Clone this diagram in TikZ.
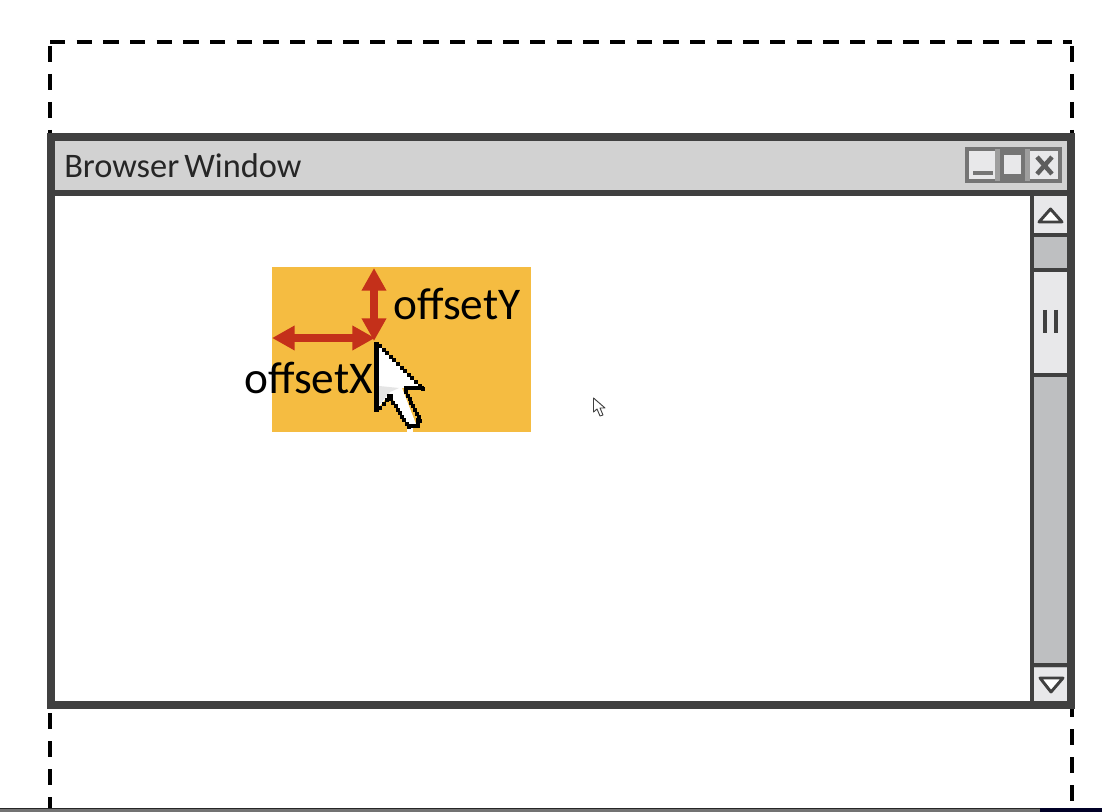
\documentclass[tikz,border=0pt]{standalone}
\usepackage{fontspec}
\setmainfont{Carlito}
\usetikzlibrary{arrows.meta}
\definecolor{frameC}{HTML}{404040}
\definecolor{titleC}{HTML}{D2D2D2}
\definecolor{btnC}{HTML}{E8E8EA}
\definecolor{btnEdge}{HTML}{757575}
\definecolor{trackC}{HTML}{BEBFC1}
\definecolor{orangeC}{HTML}{F5BC41}
\definecolor{redC}{HTML}{C4301A}
\tikzset{
  x=0.75pt,y=-0.75pt,
  guideH/.style={draw=black,line width=2.9pt,dash pattern=on 11.4pt off 8.6pt},
  guideV/.style={draw=black,line width=2.9pt,dash pattern=on 12pt off 9pt},
  sbline/.style={draw=frameC,line width=3.2pt},
  wbtn/.style={fill=btnC,draw=btnEdge,line width=2.8pt},
  glyph/.style={draw=frameC,line width=2.2pt},
  dbl/.style={draw=redC,line width=5.4pt,{Triangle[length=17pt,width=17.5pt]}-{Triangle[length=17pt,width=17.5pt]}},
  lab/.style={inner sep=0pt,anchor=base west,text=black}
}
\begin{document}
\begin{tikzpicture}
\useasboundingbox (0,0) rectangle (1102,812);
\fill[white] (0,0) rectangle (1102,812);
% dashed outer box
\coordinate (g1) at (50,42);
\coordinate (g2) at (1072,42);
\coordinate (g3) at (1072,134);
\coordinate (g4) at (50,134);
\draw[guideH] (g1) -- (g2);
\draw[guideV] (50,46) -- (g4);
\draw[guideV] (1072,46) -- (g3);
\coordinate (g5) at (50,808);
\coordinate (g6) at (1072,801);
\draw[guideV] (50,713) -- (g5);
\draw[guideV] (1072,701) -- (g6);
% window
\coordinate (w1) at (51,137);
\coordinate (w2) at (1071,705);
\fill[white] (w1) rectangle (w2);
\fill[titleC] (51,137) rectangle (1071,193);
\fill[btnC] (1032,195) rectangle (1071,705);
\fill[trackC] (1033,235) rectangle (1069,668);
\fill[btnC] (1033,271) rectangle (1069,375);
\draw[sbline] (1032,193) -- (1032,705);
\draw[sbline] (1032,235) -- (1071,235);
\draw[sbline] (1032,270) -- (1071,270);
\draw[sbline] (1032,375) -- (1071,375);
\draw[sbline] (1032,665) -- (1071,665);
\draw[draw=frameC,line width=5pt] (51,193) -- (1071,193);
\draw[draw=frameC,line width=5.4pt] (w1) rectangle (w2);
% window buttons
\draw[wbtn] (967,149) rectangle (1060,181);
\fill[btnEdge!70] (995,149) rectangle (1000,181);
\fill[btnEdge!70] (1025,149) rectangle (1030,181);
\fill[btnEdge] (1000,151) rectangle (1025,179);
\fill[btnC] (1004,155) rectangle (1021,174);
\fill[btnEdge] (973,171.5) rectangle (993,175);
\draw[frameC!85,line width=3.4pt] (1037,157) -- (1052,174) (1052,157) -- (1037,174);
% scroll glyphs
\draw[glyph,fill=white,line join=round] (1039,222) -- (1050.5,209) -- (1062,222) -- cycle;
\draw[glyph,fill=white,line join=round] (1040,678) -- (1051,692) -- (1063,678) -- cycle;
\draw[frameC,line width=3.4pt] (1045,310) -- (1045,333) (1056,310) -- (1056,333);
% title
\node[lab,font=\fontsize{25.8}{25.8}\selectfont,text=black!85] (title) at (64,178) {Browser\hspace{3.8pt}Window};
% orange element
\node[draw=none,fill=orangeC,inner sep=0pt,minimum width=194.2pt,minimum height=123.6pt,anchor=north west] (box) at (272,267) {};
% arrows
\coordinate (tip) at (374,341);
\coordinate (topE) at (374,268);
\coordinate (leftE) at (272,338);
\coordinate (rightE) at (375,338);
\draw[dbl] (topE) -- (tip);
\draw[dbl] (leftE) -- (rightE);
% cursor
\fill[white] (378,344) -- (378,408) -- (390,394) -- (408,426) -- (416,424) -- (402,388) -- (422,388) -- cycle;
\fill[black!10] (379,386) -- (379,405) -- (390,392) -- (399,388) -- cycle;
\fill[white] (407,428) rectangle (413,432);
\fill[black] (374,342) rectangle (378.5,412);
\foreach \i in {0,...,12} \fill[black] ({378+3.6*\i},{344+3.6*\i}) rectangle ++(4,4);
\fill[black] (404,386.5) rectangle (424,390.5);
\foreach \i in {0,...,3} \fill[black] ({378+3.6*\i},{406-4*\i}) rectangle ++(4,4);
\foreach \i in {0,...,9} \fill[black] ({387+2.2*\i},{394+3.5*\i}) rectangle ++(4,4);
\foreach \i in {0,...,8} \fill[black] ({404+1.8*\i},{390+3.6*\i}) rectangle ++(4,4);
\fill[black] (408,424.5) rectangle (420,428);
\fill[black] (416,418) rectangle (420,428);
% small pointer
\draw[black!75,line width=0.7pt,fill=white,line join=round]
 (593.5,398) -- (593.5,412) -- (597,409) -- (600,416) -- (603,415) -- (600,408) -- (605,408) -- cycle;
% labels
\node[lab,font=\fontsize{34}{34}\selectfont] (oy) at (393,320) {offsetY};
\node[lab,font=\fontsize{34}{34}\selectfont] (ox) at (244,394) {offsetX};
% bottom strip
\fill[black!55] (0,809) rectangle (1040,812);
\fill[black!85] (0,807.5) rectangle (1040,809);
\fill[black!85!blue] (1040,808) rectangle (1102,812);
\end{tikzpicture}
\end{document}
